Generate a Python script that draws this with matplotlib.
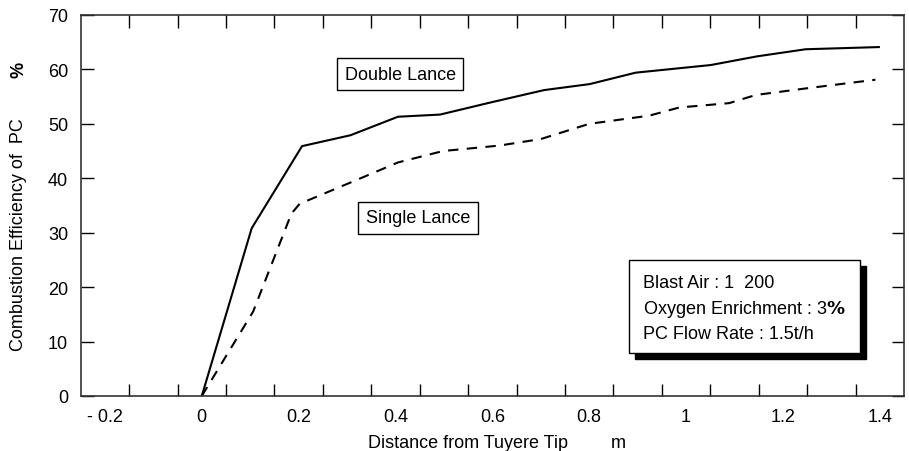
import numpy as np
import matplotlib.pyplot as plt
from matplotlib.patches import Rectangle

plt.rcParams['font.family'] = ['Liberation Sans', 'DejaVu Sans']

# distance from tuyere tip (m) and combustion efficiency (%)
double_x = [0, 0.103, 0.207, 0.307, 0.405, 0.492, 0.6, 0.707, 0.801, 0.896, 1.051, 1.147, 1.247, 1.398]
double_y = [0, 30.8, 45.9, 47.9, 51.3, 51.7, 54.0, 56.2, 57.3, 59.4, 60.8, 62.4, 63.7, 64.1]

single_x = [0, 0.106, 0.185, 0.202, 0.312, 0.405, 0.498, 0.614, 0.7, 0.8, 0.924, 0.986, 1.089, 1.144, 1.247, 1.391]
single_y = [0, 15.5, 33.5, 35.3, 39.4, 42.9, 45.0, 46.0, 47.2, 50.0, 51.5, 53.0, 53.8, 55.3, 56.5, 58.1]

xlabels_pos = [-0.2, 0, 0.2, 0.4, 0.6, 0.8, 1.0, 1.2, 1.4]
xlabels = ['- 0.2', '0', '0.2', '0.4', '0.6', '0.8', '1', '1.2', '1.4']
xticks_minor = np.arange(-0.15, 1.4, 0.1)
yticks = [0, 10, 20, 30, 40, 50, 60, 70]

info_lines = ['Blast Air : 1  200', 'Oxygen Enrichment : 3$\\mathbf{\\%}$', 'PC Flow Rate : 1.5t/h']

fs = 13

fig = plt.figure(figsize=(9.09, 4.52), dpi=100)
ax = fig.add_axes([0.0888, 0.1217, 0.9057, 0.843])

ax.plot(double_x, double_y, color='black', lw=1.5, solid_joinstyle='miter')
ax.plot(single_x, single_y, color='black', lw=1.5, ls=(0, (5, 4)))

ax.set_xlim(-0.25, 1.45)
ax.set_ylim(0, 70)

# labels sit between the tick marks
ax.set_xticks(xlabels_pos)
ax.set_xticklabels(xlabels, fontsize=fs)
ax.tick_params(axis='x', which='major', length=0, pad=9)
ax.set_xticks(xticks_minor, minor=True)
ax.tick_params(axis='x', which='minor', direction='in', length=9, width=1, top=True, bottom=True)
ax.set_yticks(yticks)
ax.set_yticklabels([str(v) for v in yticks], fontsize=fs)
ax.tick_params(axis='y', direction='in', length=9, width=1, left=True, right=True, pad=9)
for s in ax.spines.values():
    s.set_linewidth(1.2)
    s.set_color('#333333')

bbox = dict(boxstyle='square,pad=0.42', fc='white', ec='black', lw=1)
ax.text(0.41, 59.1, 'Double Lance', fontsize=fs, ha='center', va='center', bbox=bbox)
ax.text(0.447, 32.7, 'Single Lance', fontsize=fs, ha='center', va='center', bbox=bbox)

# info box with shadow (figure pixel coords)
def px(x, y):
    return x / 909, 1 - y / 452

x0, y0 = px(629, 354)
x1, y1 = px(860, 261)
fig.patches.append(Rectangle((x0 + 6 / 909, y0 - 6 / 452), x1 - x0, y1 - y0,
                             transform=fig.transFigure, fc='black', ec='black', zorder=5))
fig.patches.append(Rectangle((x0, y0), x1 - x0, y1 - y0,
                             transform=fig.transFigure, fc='white', ec='black', lw=1, zorder=6))
for i, t in enumerate(info_lines):
    tx, ty = px(643, 283 + i * 26)
    fig.text(tx, ty, t, fontsize=fs, ha='left', va='center', zorder=7)

fig.text(*px(468, 444), 'Distance from Tuyere Tip', fontsize=fs, ha='center', va='center')
fig.text(*px(618, 444), 'm', fontsize=fs, ha='center', va='center')
fig.text(*px(19, 235), 'Combustion Efficiency of  PC', fontsize=fs, rotation=90, ha='center', va='center')
fig.text(*px(19, 70), '%', fontsize=fs, fontweight='bold', rotation=90, ha='center', va='center')

fig.savefig('out.png', dpi=100)
